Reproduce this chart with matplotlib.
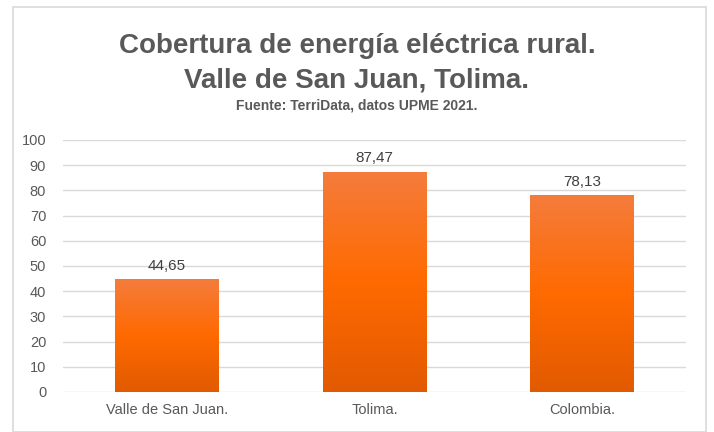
import matplotlib.pyplot as plt
import numpy as np
from matplotlib.colors import LinearSegmentedColormap
from matplotlib.patches import Rectangle

plt.rcParams['font.family'] = ['Liberation Sans', 'DejaVu Sans']

categorias = ['Valle de San Juan.', 'Tolima.', 'Colombia.']
cobertura = [44.65, 87.47, 78.13]
etiquetas = ['44,65', '87,47', '78,13']

gris = '#595959'

fig = plt.figure(figsize=(7.14, 4.32), dpi=100)
fig.patch.set_facecolor('white')
fig.patches.append(Rectangle((13 / 714, 0), 693 / 714, 1 - 7 / 432, transform=fig.transFigure,
                             fill=False, edgecolor='#D9D9D9', linewidth=1.2))

ax = fig.add_axes([0.088, 0.0926, 0.873, 0.5834])

x = np.arange(len(categorias))
barras = ax.bar(x, cobertura, width=0.5, color='none', zorder=3)

# degradado vertical tipo Excel
cmap = LinearSegmentedColormap.from_list('naranja', ['#E25A00', '#FF6A00', '#F47C3C'])
grad = np.linspace(0, 1, 256).reshape(-1, 1)
for b in barras:
    x0, y0 = b.get_x(), b.get_y()
    im = ax.imshow(grad, cmap=cmap, aspect='auto', origin='lower',
                   extent=[x0, x0 + b.get_width(), y0, y0 + b.get_height()], zorder=3)
    im.set_clip_path(b)

for xi, v, t in zip(x, cobertura, etiquetas):
    ax.text(xi, v + 2.5, t, ha='center', va='bottom', fontsize=11, color='#404040')

ax.set_xlim(-0.5, 2.5)
ax.set_ylim(0, 100)
ax.set_yticks(range(0, 101, 10))
ax.set_xticks(x)
ax.set_xticklabels(categorias)
ax.tick_params(axis='both', length=0, labelsize=10.5, colors=gris)
ax.tick_params(axis='x', pad=8)
ax.tick_params(axis='y', pad=12)
ax.grid(axis='y', color='#D9D9D9', linewidth=1, zorder=0)
for s in ax.spines.values():
    s.set_visible(False)

fig.text(0.5, 1 - 46 / 432, 'Cobertura de energía eléctrica rural.', ha='center', va='center',
         fontsize=20, fontweight='bold', color=gris)
fig.text(0.5, 1 - 80 / 432, 'Valle de San Juan, Tolima.', ha='center', va='center',
         fontsize=20, fontweight='bold', color=gris)
fig.text(0.5, 1 - 106 / 432, 'Fuente: TerriData, datos UPME 2021.', ha='center', va='center',
         fontsize=10, fontweight='bold', color=gris)

fig.savefig('out.png', dpi=100)
